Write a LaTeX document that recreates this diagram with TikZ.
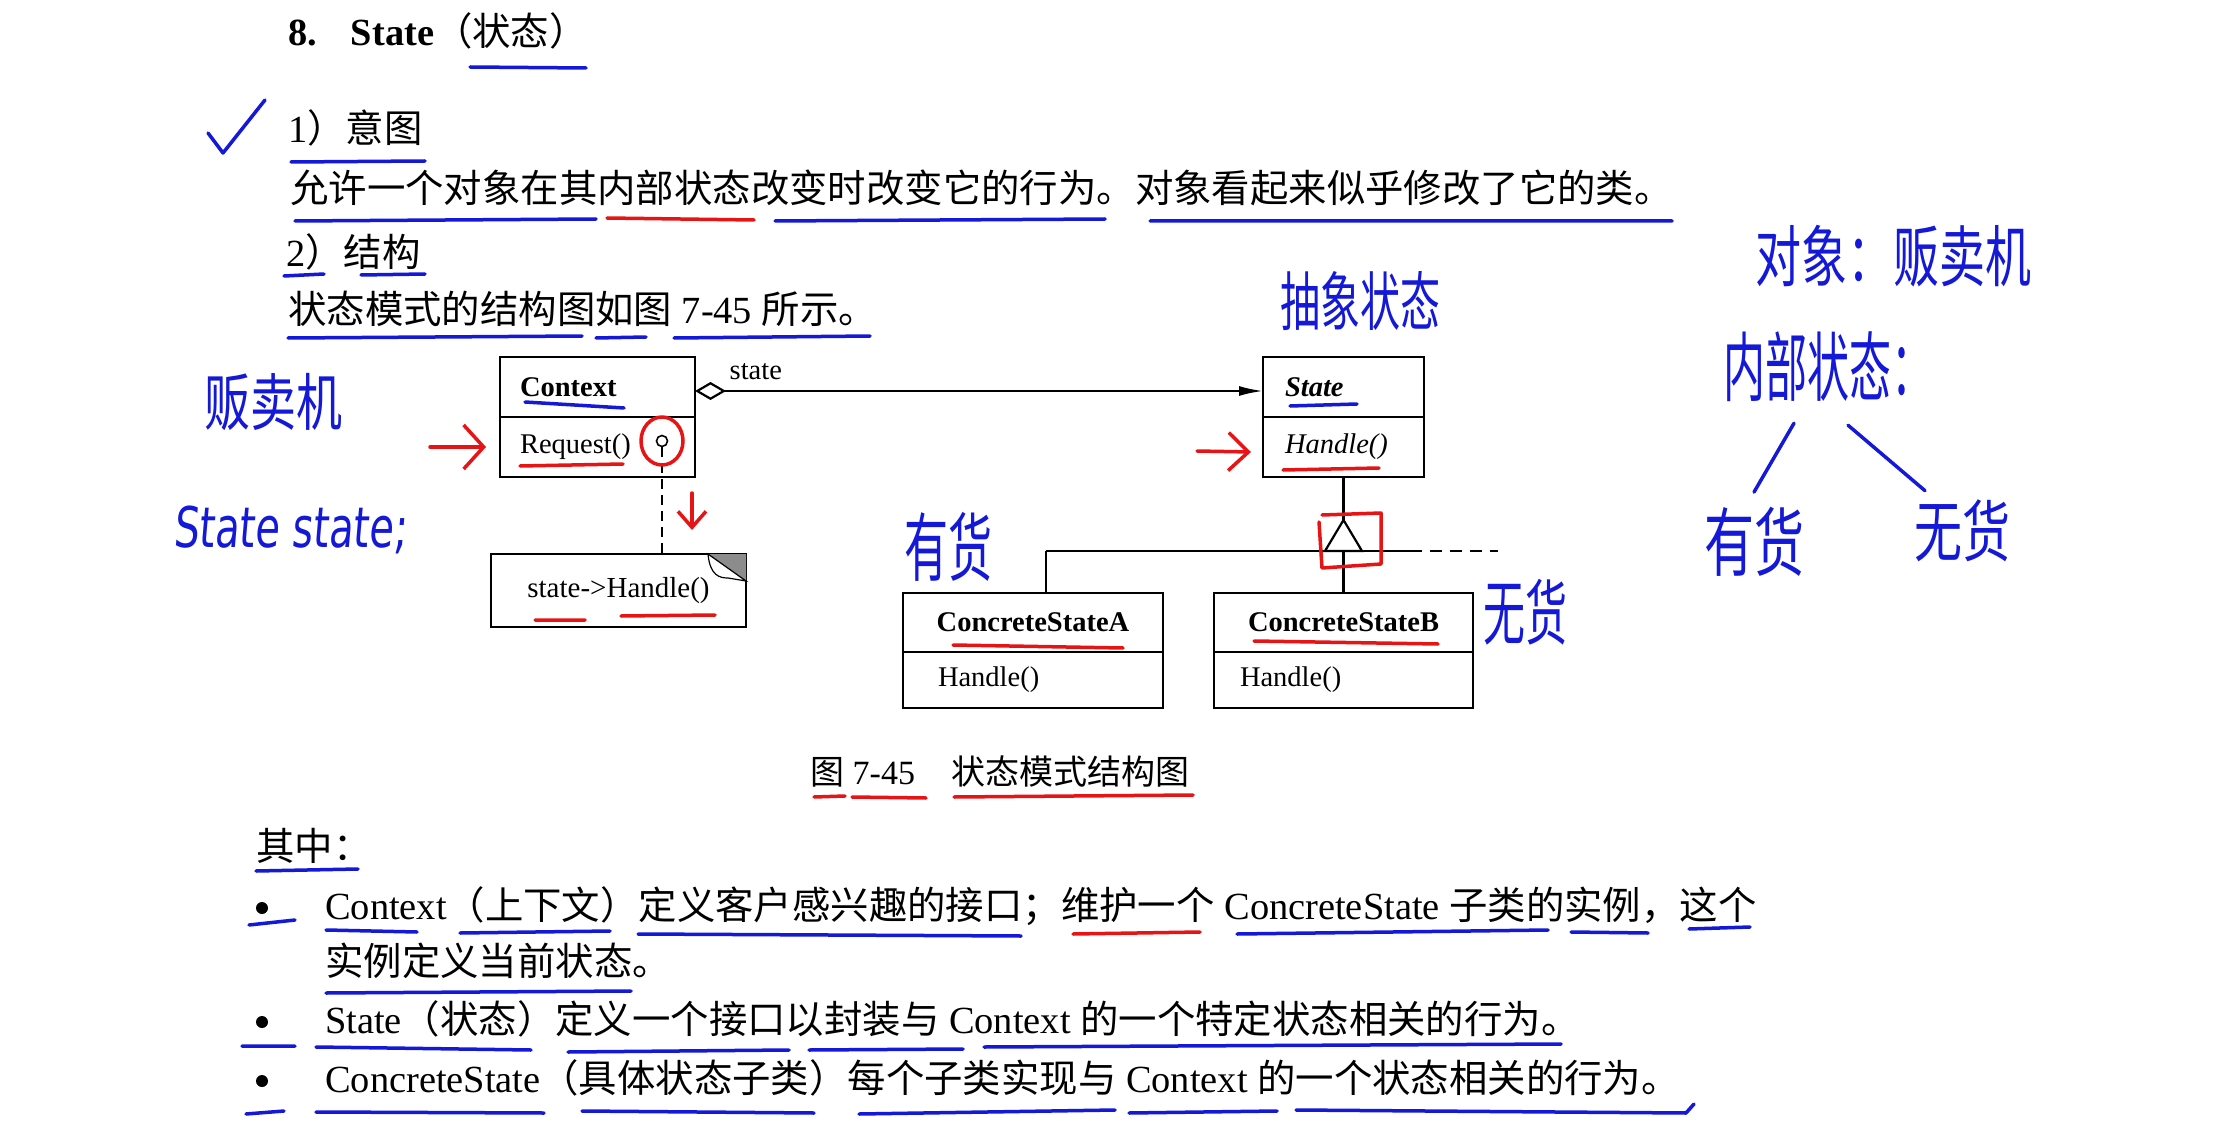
\documentclass[tikz,border=0pt]{standalone}
\usepackage{fontspec}
\setmainfont{Liberation Serif}
\newfontfamily\cjkfont{Noto Sans CJK SC}
\newfontfamily\handfont{Noto Sans CJK SC}
\newfontfamily\handlatin[FakeSlant=0.12]{DejaVu Sans}
\usetikzlibrary{arrows.meta,positioning,calc}
\definecolor{penblue}{RGB}{20,25,215}
\definecolor{penred}{RGB}{230,20,20}
\definecolor{foldgray}{RGB}{140,140,140}
\newcommand{\zh}[1]{{\cjkfont #1}}

\begin{document}
\begin{tikzpicture}[x=1pt,y=-1pt,>=Latex,
  txt/.style={anchor=west,inner sep=0pt,text height=29pt,text depth=2pt,font=\fontsize{38.4}{44}\selectfont},
  captxt/.style={anchor=west,inner sep=0pt,text height=26pt,text depth=2pt,font=\fontsize{34}{40}\selectfont},
  umlname/.style={draw,line width=2.2pt,outer sep=0pt,minimum height=60pt,inner xsep=20pt,inner ysep=0pt,font=\fontsize{28.5}{34}\selectfont\bfseries},
  umlop/.style={draw,line width=2.2pt,outer sep=0pt,minimum height=60pt,inner xsep=20pt,inner ysep=0pt,font=\fontsize{28.5}{34}\selectfont},
  umlline/.style={line width=2.2pt},
  blueline/.style={penblue,line width=3.5pt,line cap=round,line join=round},
  redline/.style={penred,line width=3.5pt,line cap=round,line join=round},
  hand/.style={penblue,inner sep=0pt},
  bulletdot/.style={circle,fill,inner sep=0pt,minimum size=12pt}]
\fill[white] (0,0) rectangle (2222,1123);
\useasboundingbox (0,0) rectangle (2222,1123);

% heading, intent, structure
\node[txt,font=\fontsize{38.4}{44}\selectfont\bfseries] (title) at (288,32) {8.\hspace{34pt}State{\mdseries\zh{（状态）}}};
\node[txt] (intent) at (288,129) {1\zh{）意图}};
\node[txt] (intenttext) at (290,189) {\zh{允许一个对象在其内部状态改变时改变它的行为。对象看起来似乎修改了它的类。}};
\node[txt] (struct) at (286,253) {2\zh{）结构}};
\node[txt] (structtext) at (288,310) {\zh{状态模式的结构图如图} 7-45 \zh{所示。}};

% class diagram
\node[umlname,text width=155pt,align=left] (ctx) at (597.5,387) {Context};
\node[umlop,text width=155pt,align=left,below=0pt of ctx] (ctxop) {Request()};
\node[umlname,font=\fontsize{28.5}{34}\selectfont\bfseries\itshape,inner xsep=22pt,text width=117pt,align=left] (st) at (1343.5,387) {State};
\node[umlop,inner xsep=22pt,text width=117pt,align=left,below=0pt of st] (stop) {\itshape Handle()};
\node[umlname,minimum height=59pt,text width=220pt,align=center] (csa) at (1033,622.5) {ConcreteStateA};
\node[umlop,minimum height=56pt,inner xsep=35pt,text width=190pt,align=left,below=0pt of csa] (csaop) {Handle()};
\node[umlname,minimum height=59pt,text width=219pt,align=center] (csb) at (1343.5,622.5) {ConcreteStateB};
\node[umlop,minimum height=56pt,inner xsep=26pt,text width=207pt,align=left,below=0pt of csb] (csbop) {Handle()};
\node[draw,line width=2.2pt,outer sep=0pt,minimum width=255pt,minimum height=73pt,font=\fontsize{29}{34}\selectfont] (note) at (618.5,590.5) {state-{}>Handle()};
\fill[foldgray] ([xshift=-38pt]note.north east) -- (note.north east) -- ([yshift=-27pt]note.north east) -- cycle;
\filldraw[fill=white,line width=1.2pt] ([xshift=-38pt]note.north east) .. controls ([xshift=-36pt,yshift=-22pt]note.north east) and ([xshift=-26pt,yshift=-24pt]note.north east) .. ([xshift=-18pt,yshift=-24pt]note.north east) -- ([yshift=-27pt]note.north east) -- cycle;
\node[circle,draw,line width=1.6pt,minimum size=11pt,inner sep=0pt] (reqdot) at (662,441) {};
\draw[umlline,dash pattern=on 10pt off 6pt] (reqdot.south) -- (reqdot.south |- note.north);
\draw[umlline,{Diamond[open,length=31pt,width=18pt]}-{Latex[length=24pt,width=10pt]}] ([yshift=-4pt]ctx.east) -- ([yshift=-4pt]st.west)
  node[pos=0.107,yshift=19pt,font=\fontsize{28.5}{34}\selectfont] (statelbl) {state};
\coordinate (tri) at ($(stop.south)+(0,74)$);
\coordinate (barl) at (1046,551);
\coordinate (barr) at (1410,551);
\coordinate (bare) at (1498,551);
\draw[umlline] (stop.south) -- ($(tri)+(0,-31)$);
\draw[umlline,line join=miter] (tri) ++(-18.5,0) -- ++(18.5,-31) -- ++(18.5,31) -- cycle;
\draw[umlline] (barl) -- (barr);
\draw[umlline,dash pattern=on 12pt off 8pt] (barr) -- (bare);
\draw[umlline] (barl) -- (barl |- csa.north);
\draw[umlline] (tri) -- (tri |- csb.north);

\node[captxt] (caption) at (810,772) {\zh{图} 7-45\hspace{36pt}\zh{状态模式结构图}};

% bullet list
\node[txt] (among) at (256,847) {\zh{其中：}};
\node[bulletdot] (b1) at (262,908) {};
\node[bulletdot] (b2) at (262,1022) {};
\node[bulletdot] (b3) at (262,1081) {};
\node[txt] (l1) at (325,906) {Context\zh{（上下文）定义客户感兴趣的接口；维护一个} ConcreteState \zh{子类的实例，这个}};
\node[txt] (l2) at (325,962) {\zh{实例定义当前状态。}};
\node[txt] (l3) at (325,1020) {State\zh{（状态）定义一个接口以封装与} Context \zh{的一个特定状态相关的行为。}};
\node[txt] (l4) at (325,1079) {ConcreteState\zh{（具体状态子类）每个子类实现与} Context \zh{的一个状态相关的行为。}};

% handwritten notes
\node[hand,font=\fontsize{40}{46}\handfont] (abstate) at (1360,301) {\scalebox{1}[1.6]{抽象状态}};
\node[hand,font=\fontsize{46}{52}\handfont] (object) at (1893,256) {\scalebox{1}[1.45]{对象：贩卖机}};
\node[hand,font=\fontsize{42}{48}\handfont] (instate) at (1828,367) {\scalebox{1}[1.8]{内部状态：}};
\node[hand,font=\fontsize{50}{56}\handfont] (hasgoods) at (1754,542) {\scalebox{1}[1.5]{有货}};
\node[hand,font=\fontsize{48}{54}\handfont] (nogoods) at (1962,531) {\scalebox{1}[1.4]{无货}};
\node[hand,font=\fontsize{46}{52}\handfont] (vending) at (273,402) {\scalebox{1}[1.35]{贩卖机}};
\node[hand,font=\fontsize{40}{46}\handlatin] (statevar) at (290,530) {\scalebox{1}[1.4]{State state;}};
\node[hand,font=\fontsize{44}{50}\handfont] (hasa) at (948,547) {\scalebox{1}[1.7]{有货}};
\node[hand,font=\fontsize{42}{48}\handfont] (nob) at (1525,612) {\scalebox{1}[1.7]{无货}};
\draw[blueline] ([xshift=-34pt,yshift=-21pt]instate.south) -- ([yshift=15pt]hasgoods.north);
\draw[blueline] ([xshift=20pt,yshift=-23pt]instate.south) -- ([xshift=-37pt,yshift=9pt]nogoods.north);
\draw[blueline] (208,133) -- (223,153) -- (265,100);

% red marks in the diagram
\draw[redline,-{Straight Barb[length=20pt,width=44pt]}] ([xshift=-70pt]ctxop.west) -- ([xshift=-14pt]ctxop.west);
\draw[redline,-{Straight Barb[length=16pt,width=28pt]}] ([xshift=-3pt,yshift=-16pt]ctxop.south east) -- ([xshift=-3pt,yshift=-53pt]ctxop.south east);
\draw[redline,-{Straight Barb[length=20pt,width=38pt]}] ([xshift=-66pt,yshift=-4pt]stop.west) -- ([xshift=-12pt,yshift=-5pt]stop.west);
\draw[redline] (reqdot) ellipse (21 and 24);
\draw[redline] (1322,515) -- (1381,513) -- (1381,564) -- (1322,568) -- (1319,522);

% underlines
\draw[blueline] (470,67) -- (586,68) (291,162) -- (425,161) (295,221) -- (596,219) (775,221) -- (1105,219) (1150,221) -- (1672,221)
  (284,276) -- (324,274) (361,275) -- (425,274) (288,338) -- (582,336) (596,338) -- (646,337) (674,338) -- (870,336);
\draw[redline] (607,218) -- (754,220);
\draw[blueline] (525,402) -- (624,408) (1290,406) -- (1357,404);
\draw[redline] (520,466) -- (623,464) (1283,470) -- (1379,468) (535,620) -- (585,620) (621,616) -- (715,615)
  (953,645) -- (1123,648) (1254,641) -- (1438,644);
\draw[redline] (814,797) -- (845,796) (852,797) -- (926,798) (954,797) -- (1193,795);
\draw[blueline] (256,871) -- (358,869);
\draw[blueline] (249,925) -- (295,920) (326,930) -- (417,932) (460,933) -- (610,931) (638,934) -- (1021,936)
  (1237,934) -- (1548,930) (1571,932) -- (1648,933) (1689,929) -- (1750,927);
\draw[redline] (1073,934) -- (1200,932);
\draw[blueline] (326,993) -- (631,991) (242,1046) -- (295,1046) (316,1047) -- (531,1050) (568,1052) -- (789,1050)
  (809,1050) -- (963,1049) (984,1047) -- (1561,1044);
\draw[blueline] (246,1114) -- (284,1111) (316,1112) -- (544,1113) (582,1111) -- (814,1113) (859,1114) -- (1115,1110)
  (1129,1113) -- (1277,1111) (1296,1110) -- (1686,1113) -- (1694,1104);
\end{tikzpicture}
\end{document}
